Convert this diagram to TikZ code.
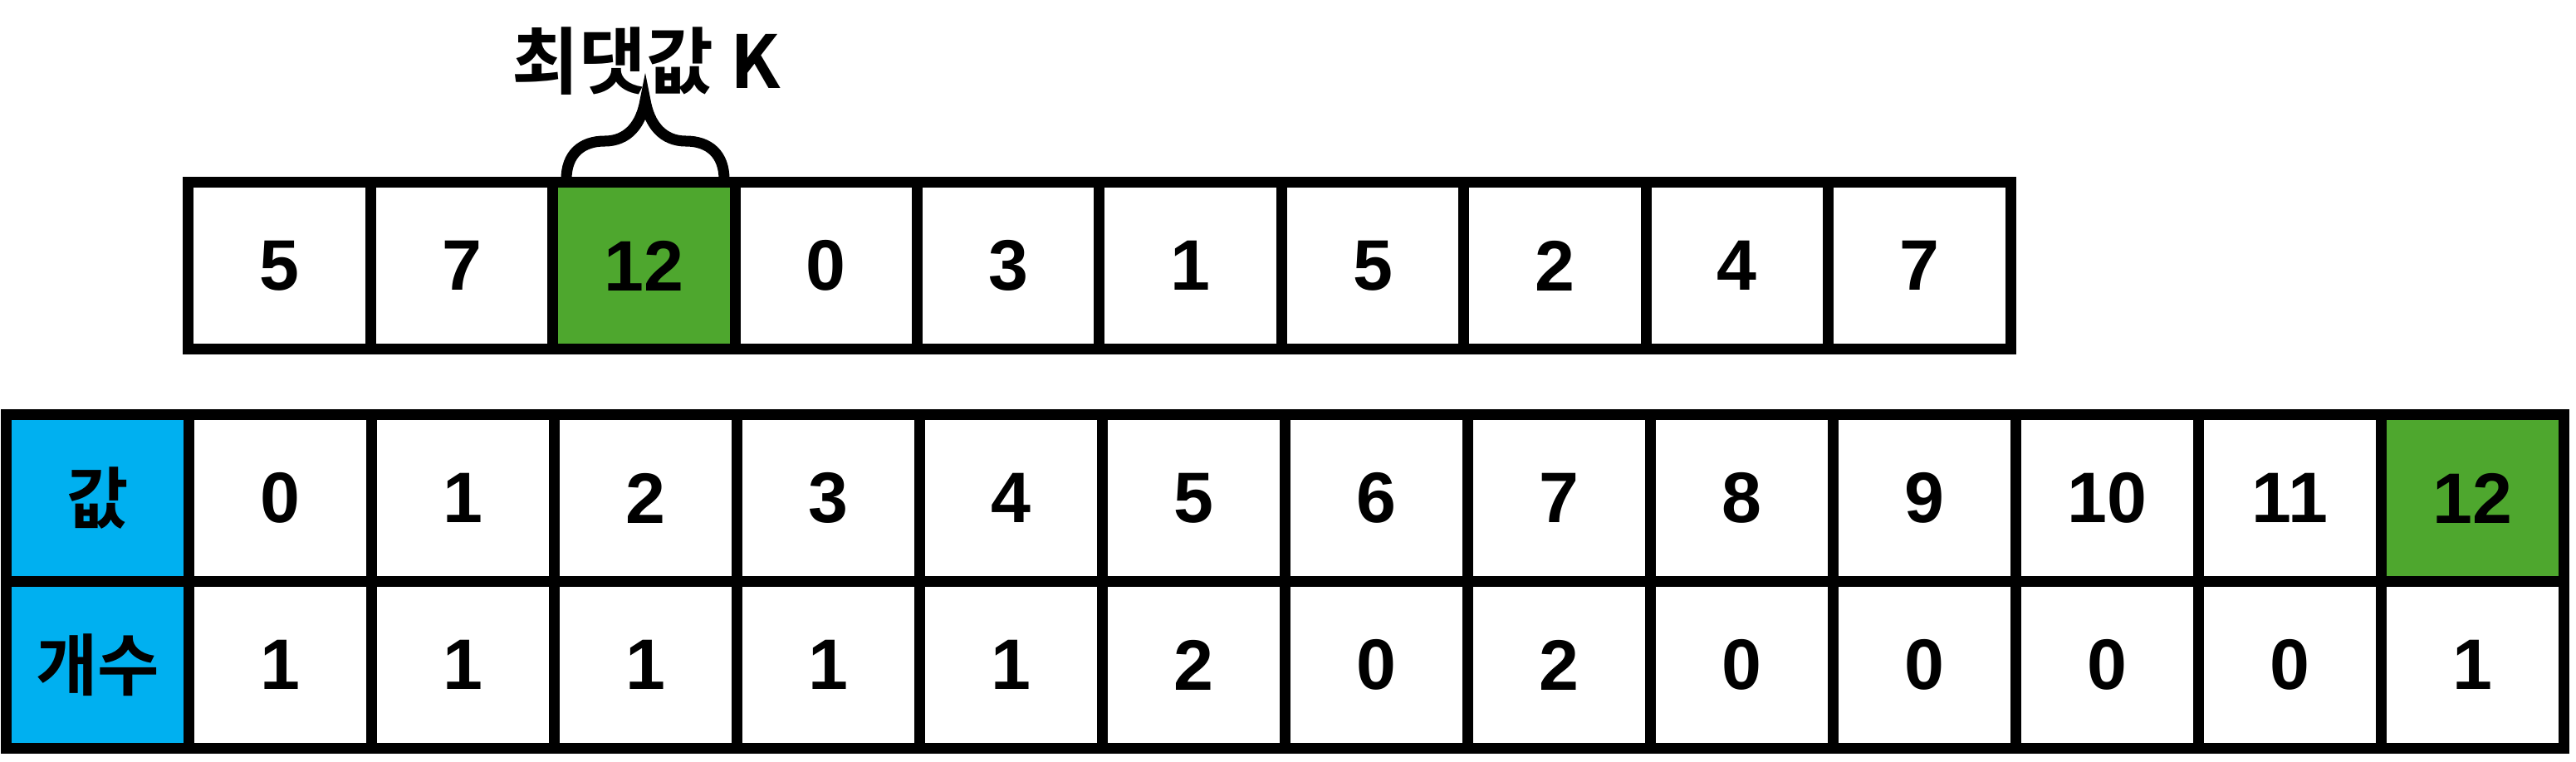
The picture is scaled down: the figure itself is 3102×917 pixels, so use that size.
\documentclass[tikz,border=0pt]{standalone}
\usepackage{fontspec}
\setmainfont{Liberation Sans}
\newfontfamily\kr{Noto Sans CJK KR}[BoldFont={* Bold}]
\definecolor{cblue}{HTML}{00B0F0}
\definecolor{cgreen}{HTML}{4EA72E}
\tikzset{
  cellbox/.style={draw=black, line width=0.13cm, rectangle, inner sep=0pt, outer sep=0pt,
    fill=white, minimum height=2.0cm, minimum width=2.194cm,
    font=\fontsize{24.5}{28}\selectfont\bfseries},
  tabbox/.style={cellbox, minimum width=2.2cm, minimum height=2.01cm},
  hdrbox/.style={tabbox, fill=cblue, minimum width=2.195cm, font=\kr\fontsize{23}{28}\selectfont\bfseries},
  hot/.style={fill=cgreen}
}
\begin{document}
\begin{tikzpicture}[x=0.01cm, y=-0.01cm]
\useasboundingbox (0,0) rectangle (3102,917);
% top array
\foreach \v [count=\i from 0] in {5,7,12,0,3,1,5,2,4,7} {
  \ifnum\i=2
    \node[cellbox, hot] (t\i) at ({227+219.4*(\i+0.5)},320) {\v};
  \else
    \node[cellbox] (t\i) at ({227+219.4*(\i+0.5)},320) {\v};
  \fi
}
% bottom table headers
\node[hdrbox] (hv) at (117.75,600) {값};
\node[hdrbox] (hc) at (117.75,801) {개수};
\foreach \c [count=\i from 0] in {1,1,1,1,1,2,0,2,0,0,0,0,1} {
  \ifnum\i=12
    \node[tabbox, hot] (v\i) at ({227.5+220*(\i+0.5)},600) {\i};
  \else
    \node[tabbox] (v\i) at ({227.5+220*(\i+0.5)},600) {\i};
  \fi
  \node[tabbox] (c\i) at ({227.5+220*(\i+0.5)},801) {\c};
}
% brace over the maximum
\draw[line width=0.13cm, line join=miter]
  (682,216) .. controls (682,186) and (700,170) .. (728,170)
  .. controls (756,170) and (772,150) .. (777,121)
  .. controls (782,150) and (798,170) .. (826,170)
  .. controls (854,170) and (872,186) .. (872,216);
\node[font=\kr\fontsize{25}{30}\selectfont\bfseries, inner sep=0pt] (title) at (778,74) {최댓값 K};
\end{tikzpicture}
\end{document}
